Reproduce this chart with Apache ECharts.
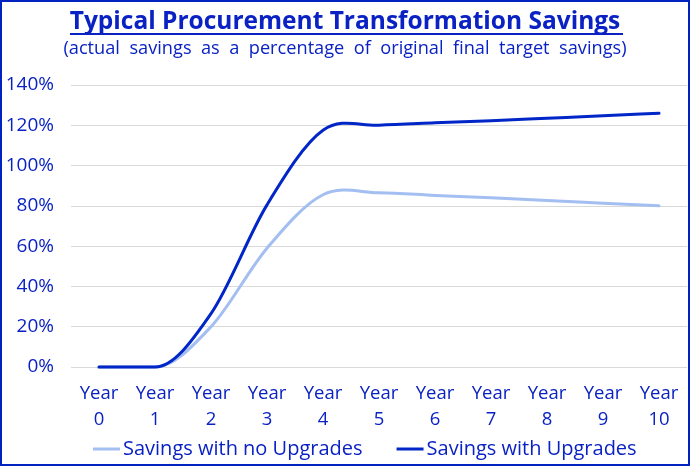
<!DOCTYPE html>
<html>
<head>
<meta charset="utf-8">
<script src="https://cdn.jsdelivr.net/npm/echarts@6/dist/echarts.min.js"></script>
<style>
html,body{margin:0;padding:0;background:#fff;}
#c{width:690px;height:466px;box-sizing:border-box;border:2px solid #0022c0;}
</style>
</head>
<body>
<div id="c"></div>
<script>
var categories = ["Year\n0","Year\n1","Year\n2","Year\n3","Year\n4","Year\n5","Year\n6","Year\n7","Year\n8","Year\n9","Year\n10"];
var noUpgrades = [0, 0, 20, 59, 85.5, 86.5, 85.2, 84, 82.6, 81.3, 80];
var withUpgrades = [0, 0, 26.5, 80.5, 117.5, 120, 121.2, 122.3, 123.5, 124.7, 126];
var yTicks = [0, 20, 40, 60, 80, 100, 120, 140];

var textColor = '#0a22c4';
var lightColor = '#a3bef0';
var darkColor = '#0026c8';
var font = 'Open Sans';

// Smooth (Catmull-Rom style) path through the points, positioned by the axes via api.coord
function smoothRender(values, color) {
  return function (params, api) {
    if (params.dataIndex !== 0) return null;
    var pts = values.map(function (v, i) { return api.coord([i, v]); });
    var n = pts.length;
    var tan = pts.map(function (p, i) {
      var a = pts[Math.max(i - 1, 0)], b = pts[Math.min(i + 1, n - 1)];
      var k = (i === 0 || i === n - 1) ? 1 : 0.5;
      var tx = (b[0] - a[0]) * k, ty = (b[1] - a[1]) * k;
      if ((i > 0 && values[i - 1] === values[i]) || (i < n - 1 && values[i + 1] === values[i])) ty = 0;
      return [tx, ty];
    });
    var d = 'M' + pts[0][0] + ' ' + pts[0][1];
    for (var i = 0; i < n - 1; i++) {
      var p0 = pts[i], p1 = pts[i + 1], t0 = tan[i], t1 = tan[i + 1];
      d += ' C' + (p0[0] + t0[0] / 3) + ' ' + (p0[1] + t0[1] / 3) + ' ' +
           (p1[0] - t1[0] / 3) + ' ' + (p1[1] - t1[1] / 3) + ' ' + p1[0] + ' ' + p1[1];
    }
    return {
      type: 'path',
      shape: { pathData: d },
      style: { fill: 'none', stroke: color, lineWidth: 3, lineCap: 'round', lineJoin: 'round' }
    };
  };
}

var chart = echarts.init(document.getElementById('c'), null, {renderer:'canvas'});
chart.setOption({
  animation:false,
  textStyle:{fontFamily:font},
  title:{
    text:'Typical Procurement Transformation Savings',
    subtext:'(actual  savings  as  a  percentage  of  original  final  target  savings)',
    left:'center', top:3, itemGap:5,
    textStyle:{fontFamily:font, fontWeight:'bold', fontSize:24.5, color:textColor},
    subtextStyle:{fontFamily:font, fontSize:18.2, color:textColor}
  },
  graphic:[{type:'rect', shape:{x:68, y:31, width:553, height:2}, style:{fill:textColor}}],
  legend:{
    bottom:0, left:86, itemWidth:27, itemHeight:3, itemGap:34,
    icon:'rect',
    textStyle:{fontFamily:font, fontSize:20, color:textColor, padding:[0,0,0,-2]},
    data:[{name:'Savings with no Upgrades', itemStyle:{color:lightColor}},
          {name:'Savings with Upgrades', itemStyle:{color:darkColor}}]
  },
  grid:{left:69, right:1, top:83, bottom:97},
  xAxis:{
    type:'category', data:categories, boundaryGap:true,
    axisLine:{show:false}, axisTick:{show:false},
    axisLabel:{fontFamily:font, fontSize:18.5, color:textColor, lineHeight:26, margin:14, interval:0}
  },
  yAxis:{
    type:'value', min:0, max:140, interval:20,
    axisLabel:{fontFamily:font, fontSize:19, color:textColor, formatter:function(v){return v+'%';}, margin:17},
    splitLine:{lineStyle:{color:'#d9d9d9', width:1}},
    axisLine:{show:false}, axisTick:{show:false}
  },
  series:[
    {name:'Savings with no Upgrades', type:'custom',
     data:noUpgrades.map(function(v,i){return [i,v];}), encode:{x:0,y:1},
     renderItem:smoothRender(noUpgrades, lightColor), itemStyle:{color:lightColor}},
    {name:'Savings with Upgrades', type:'custom',
     data:withUpgrades.map(function(v,i){return [i,v];}), encode:{x:0,y:1},
     renderItem:smoothRender(withUpgrades, darkColor), itemStyle:{color:darkColor}}
  ]
});
</script>
</body>
</html>
